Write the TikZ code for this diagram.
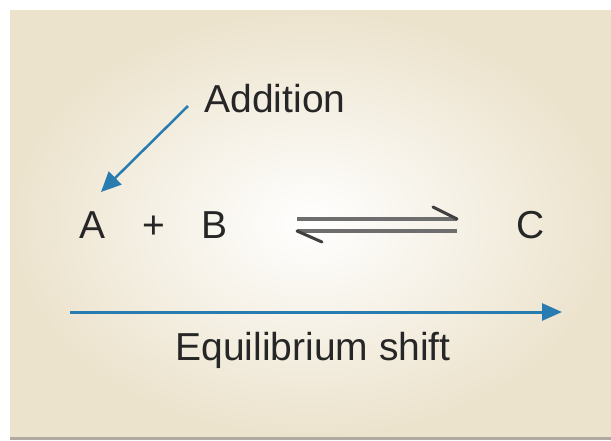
\documentclass[tikz,border=0pt]{standalone}
\usepackage{fontspec}
\setmainfont{Liberation Sans}
\usetikzlibrary{arrows.meta}
\definecolor{beige}{RGB}{236,227,205}
\definecolor{arrowblue}{RGB}{40,124,176}
\definecolor{eqgrey}{RGB}{110,110,110}
\definecolor{edgegrey}{RGB}{175,170,160}
\tikzset{
  lbl/.style={anchor=base, inner sep=0pt, font=\fontsize{39}{45}\selectfont, text=black!85},
  bluearrow/.style={draw=arrowblue, line width=3pt, -{Triangle[length=20pt,width=17pt]}},
  harp/.style={draw=eqgrey, line width=3.5pt},
  barb/.style={draw=black!75, line width=3pt, line cap=round}
}
\begin{document}
\begin{tikzpicture}[x=1pt,y=-1pt]
\useasboundingbox (0,0) rectangle (611,440);
\fill[white] (0,0) rectangle (611,440);
\shade[inner color=white, outer color=beige] (10,10) rectangle (611,437);
\fill[edgegrey] (10,437) rectangle (611,440);
% labels
\node[lbl] (add) at (275,112) {Addition};
\node[lbl] (a) at (93,238) {A};
\node[lbl] (plus) at (154,238) {+};
\node[lbl] (b) at (215,238) {B};
\node[lbl] (c) at (531,238) {C};
\node[lbl] (eq) at (313,360) {Equilibrium shift};
% addition arrow
\coordinate (addstart) at (188,106);
\coordinate (addend) at (101,192);
\draw[bluearrow, line width=2.5pt, -{Triangle[length=20pt,width=18pt]}] (addstart) -- (addend);
% equilibrium harpoons
\coordinate (t1) at (297,219);
\coordinate (t2) at (457,219);
\coordinate (tb) at (433,207);
\coordinate (b1) at (297,231);
\coordinate (b2) at (457,231);
\coordinate (bb) at (322,242);
\draw[harp] (t1) -- (t2);
\draw[harp] (b1) -- (b2);
\draw[barb] (t2) -- (tb);
\draw[barb] (b1) -- (bb);
% shift arrow
\coordinate (s1) at (70,312);
\coordinate (s2) at (562,312);
\draw[bluearrow] (s1) -- (s2);
\end{tikzpicture}
\end{document}
